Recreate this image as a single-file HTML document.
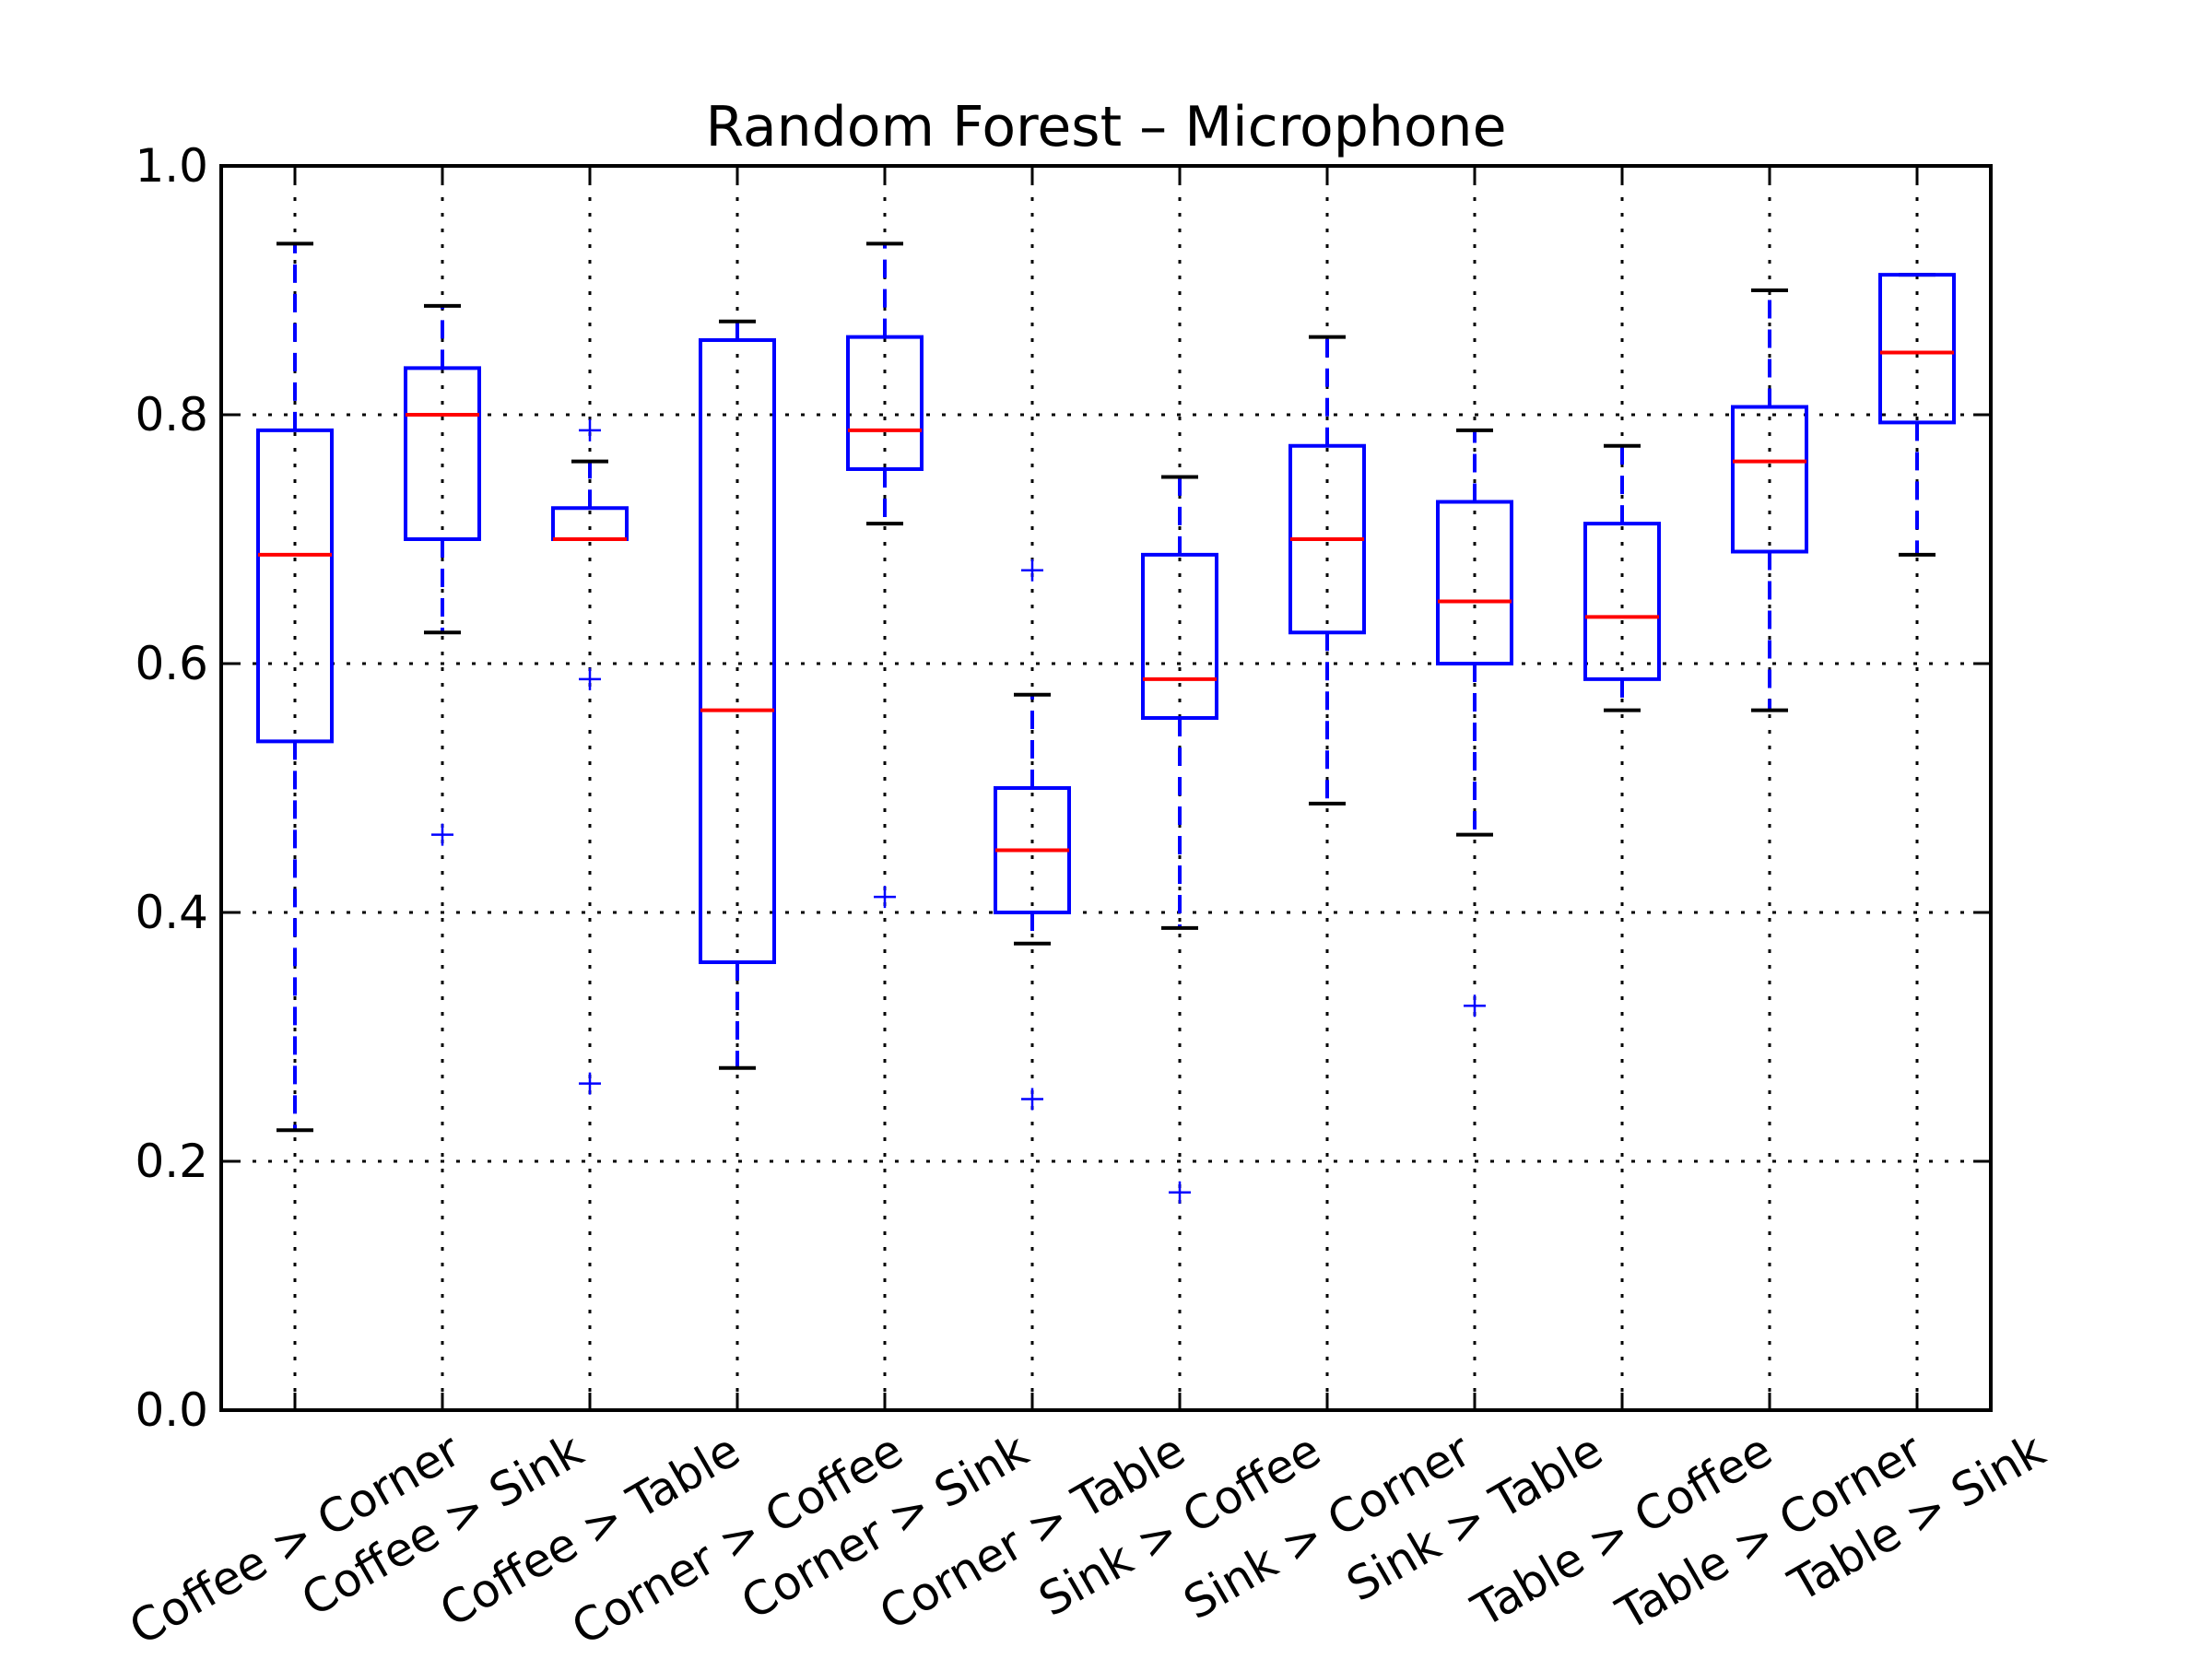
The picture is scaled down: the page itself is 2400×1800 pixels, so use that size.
<!DOCTYPE html>
<html><head><meta charset="utf-8"><style>
html,body{margin:0;padding:0;background:#fff;}
svg{display:block;}
text{font-family:"DejaVu Sans","Liberation Sans",sans-serif;}
</style></head><body>
<svg id="chart" width="2400" height="1800" viewBox="0 0 2400 1800" xmlns="http://www.w3.org/2000/svg">
<rect x="0" y="0" width="2400" height="1800" fill="#fff"/>
<text x="1200" y="158" font-size="60" text-anchor="middle">Random Forest – Microphone</text>
<g id="grid"></g>
<g id="boxes"></g>
<g id="axes"></g>
</svg>
<script>
const categories = ["Coffee > Corner","Coffee > Sink","Coffee > Table","Corner > Coffee","Corner > Sink","Corner > Table","Sink > Coffee","Sink > Corner","Sink > Table","Table > Coffee","Table > Corner","Table > Sink"];
const whiskerHigh = [0.9375,0.8875,0.7625,0.875,0.9375,0.575,0.75,0.8625,0.7875,0.775,0.9,0.9125];
const q3 = [0.7875,0.8375,0.725,0.86,0.8625,0.5,0.6875,0.775,0.73,0.7125,0.8063,0.9125];
const medians = [0.6875,0.8,0.7,0.5625,0.7875,0.45,0.5875,0.7,0.65,0.6375,0.7625,0.85];
const q1 = [0.5375,0.7,0.7,0.36,0.7563,0.4,0.5563,0.625,0.6,0.5875,0.69,0.7938];
const whiskerLow = [0.225,0.625,0.7,0.275,0.7125,0.375,0.3875,0.4875,0.4625,0.5625,0.5625,0.6875];
const outliers = [[],[0.4625],[0.7875,0.5875,0.2625],[],[0.4125],[0.675,0.25],[0.175],[],[0.325],[],[],[]];
const yTicks = [0.0,0.2,0.4,0.6,0.8,1.0];
const yTickLabels = ["0.0","0.2","0.4","0.6","0.8","1.0"];

const L=240,R=2160,T=180,B=1530;
const NS="http://www.w3.org/2000/svg";
const xScale = i => L + (i+0.5)*(R-L)/categories.length;
const yScale = v => B - v*(B-T);
function mk(tag, attrs, parent){const e=document.createElementNS(NS,tag);for(const k in attrs)e.setAttribute(k,attrs[k]);parent.appendChild(e);return e;}
const grid=document.getElementById('grid'), boxes=document.getElementById('boxes'), axes=document.getElementById('axes');

yTicks.forEach(v=>{
  const l=mk('line',{x1:L,x2:R,y1:yScale(v),y2:yScale(v),stroke:'#000','stroke-width':3,'stroke-dasharray':'4 13'},grid);
  
  
});
categories.forEach((c,i)=>{
  const l=mk('line',{x1:xScale(i),x2:xScale(i),y1:T,y2:B,stroke:'#000','stroke-width':3,'stroke-dasharray':'4 13'},grid);
  
  
});

const bw=80, cw=40, lw=4;
categories.forEach((c,i)=>{
  const x=xScale(i);
  const g=mk('g',{},boxes);
  
  
  const dash={stroke:'#0000ff','stroke-width':lw,'stroke-dasharray':'20 12'};
  const w1=mk('line',Object.assign({x1:x,x2:x,y1:yScale(q3[i]),y2:yScale(whiskerHigh[i])},dash),g);
  
  
  const w2=mk('line',Object.assign({x1:x,x2:x,y1:yScale(q1[i]),y2:yScale(whiskerLow[i])},dash),g);
  
  
  const c1=mk('line',{x1:x-cw/2,x2:x+cw/2,y1:yScale(whiskerHigh[i]),y2:yScale(whiskerHigh[i]),stroke:'#000','stroke-width':lw},g);
  
  
  const c2=mk('line',{x1:x-cw/2,x2:x+cw/2,y1:yScale(whiskerLow[i]),y2:yScale(whiskerLow[i]),stroke:'#000','stroke-width':lw},g);
  
  
  const r=mk('rect',{x:x-bw/2,y:yScale(q3[i]),width:bw,height:Math.max(0.1,yScale(q1[i])-yScale(q3[i])),fill:'none',stroke:'#0000ff','stroke-width':lw},g);
  
  
  const m=mk('line',{x1:x-bw/2,x2:x+bw/2,y1:yScale(medians[i]),y2:yScale(medians[i]),stroke:'#ff0000','stroke-width':lw},g);
  
  
  outliers[i].forEach(v=>{
    const p=mk('path',{d:`M${x-12},${yScale(v)}H${x+12}M${x},${yScale(v)-12}V${yScale(v)+12}`,stroke:'#0000ff','stroke-width':2.5,fill:'none'},g);
    
    
  });
});

const sp=mk('rect',{x:L,y:T,width:R-L,height:B-T,fill:'none',stroke:'#000','stroke-width':4},axes);


yTicks.forEach((v,k)=>{
  const y=yScale(v);
  const t1=mk('path',{d:`M${L},${y}h19M${R},${y}h-19`,stroke:'#000','stroke-width':3},axes);
  
  
  const t=mk('text',{x:L-14,y:y,'font-size':50,'text-anchor':'end','dominant-baseline':'central'},axes);
  t.textContent=yTickLabels[k];
  
  
});
categories.forEach((c,i)=>{
  const x=xScale(i);
  const t1=mk('path',{d:`M${x},${B}v-19M${x},${T}v19`,stroke:'#000','stroke-width':3},axes);
  
  
  const t=mk('text',{x:0,y:0,'font-size':50,'text-anchor':'middle','dominant-baseline':'central'},axes);
  t.textContent=c;
  
  
  const w=t.getComputedTextLength();
  const h=50*1.17;
  const bh=w*0.5+h*0.866;
  const cy=B+14+bh/2;
  t.setAttribute('transform',`translate(${x},${cy}) rotate(-30)`);
});
</script>
</body></html>
